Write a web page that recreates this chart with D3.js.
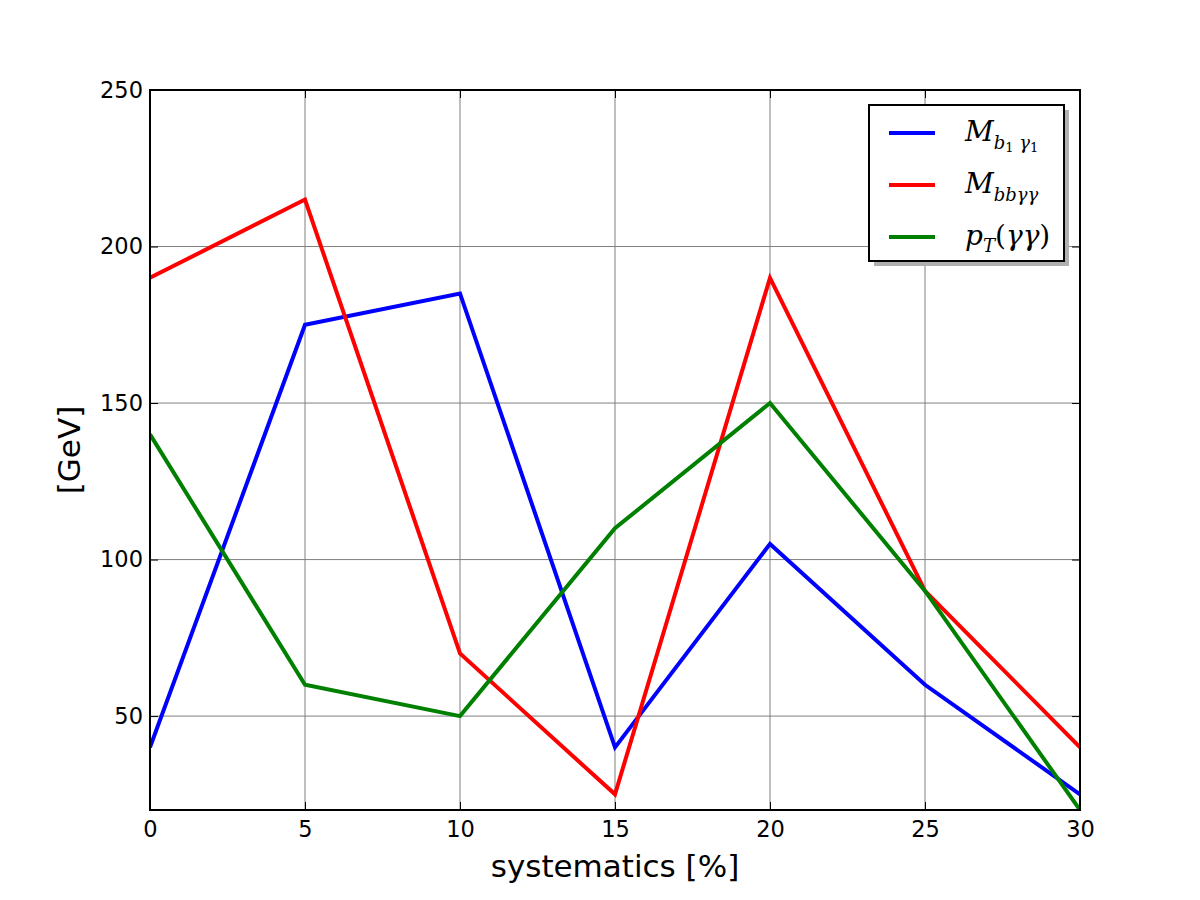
<!DOCTYPE html>
<html>
<head>
<meta charset="utf-8">
<script src="https://cdn.jsdelivr.net/npm/d3@7"></script>
<style>
  body { margin: 0; background: #fff; }
  text { font-family: "DejaVu Sans", sans-serif; }
  .math { font-family: "DejaVu Serif", "Liberation Serif", serif; font-style: italic; }
</style>
</head>
<body>
<svg id="chart" width="1200" height="900"></svg>
<script>
const systematics = [0, 5, 10, 15, 20, 25, 30];
const mB1G1 = [40, 175, 185, 40, 105, 60, 25];
const mBBGG = [190, 215, 70, 25, 190, 90, 40];
const ptGG = [140, 60, 50, 110, 150, 90, 20];
const xTicks = [0, 5, 10, 15, 20, 25, 30];
const yTicks = [50, 100, 150, 200, 250];

const margin = {top: 90, right: 120, bottom: 90, left: 150};
const width = 1200, height = 900;

const svg = d3.select("#chart");

const x = d3.scaleLinear().domain([0, 30]).range([margin.left, width - margin.right]);
const y = d3.scaleLinear().domain([20, 250]).range([height - margin.bottom, margin.top]);

// grid
svg.append("g").selectAll("line").data(xTicks.slice(1, -1)).join("line")
    .attr("x1", d => x(d)).attr("x2", d => x(d))
    .attr("y1", y(20)).attr("y2", y(250))
    .attr("stroke", "#808080").attr("stroke-width", 1);
svg.append("g").selectAll("line").data(yTicks.slice(0, -1)).join("line")
    .attr("x1", x(0)).attr("x2", x(30))
    .attr("y1", d => y(d)).attr("y2", d => y(d))
    .attr("stroke", "#808080").attr("stroke-width", 1);

// series
const series = [
    {name: "b1g1", values: mB1G1, color: "#0000ff"},
    {name: "bbgg", values: mBBGG, color: "#ff0000"},
    {name: "ptgg", values: ptGG, color: "#008000"}
];

const line = d3.line()
    .x((d, i) => x(systematics[i]))
    .y(d => y(d));

svg.append("clipPath").attr("id", "clip")
    .append("rect")
    .attr("x", x(0)).attr("y", y(250))
    .attr("width", x(30) - x(0)).attr("height", y(20) - y(250));

svg.append("g").attr("clip-path", "url(#clip)")
    .selectAll("path").data(series).join("path")
    .attr("fill", "none")
    .attr("stroke", d => d.color)
    .attr("stroke-width", 4)
    .attr("d", d => line(d.values));

// axes (ticks inside, on all sides)
const tickLen = 8;
const xAxisB = svg.append("g")
    .attr("transform", `translate(0,${y(20)})`)
    .call(d3.axisBottom(x).tickValues(xTicks).tickSize(-tickLen).tickPadding(11).tickFormat(d3.format("d")));
const xAxisT = svg.append("g")
    .attr("transform", `translate(0,${y(250)})`)
    .call(d3.axisTop(x).tickValues(xTicks).tickSize(-tickLen).tickFormat(""));
const yAxisL = svg.append("g")
    .attr("transform", `translate(${x(0)},0)`)
    .call(d3.axisLeft(y).tickValues(yTicks).tickSize(-tickLen).tickPadding(7).tickFormat(d3.format("d")));
const yAxisR = svg.append("g")
    .attr("transform", `translate(${x(30)},0)`)
    .call(d3.axisRight(y).tickValues(yTicks).tickSize(-tickLen).tickFormat(""));

[xAxisB, xAxisT, yAxisL, yAxisR].forEach(g => {
    g.attr("font-size", 22.5).attr("font-family", "DejaVu Sans");
    g.select(".domain").remove();
    g.selectAll(".tick line").attr("stroke", "#000").attr("stroke-width", 1);
    g.selectAll(".tick text").attr("fill", "#000");
});

svg.append("rect")
    .attr("x", x(0)).attr("y", y(250))
    .attr("width", x(30) - x(0)).attr("height", y(20) - y(250))
    .attr("fill", "none").attr("stroke", "#000").attr("stroke-width", 2);

// labels
svg.append("text")
    .attr("x", (x(0) + x(30)) / 2).attr("y", 877)
    .attr("text-anchor", "middle").attr("font-size", 31)
    .text("systematics [%]");
svg.append("text")
    .attr("transform", `translate(80,${(y(20) + y(250)) / 2}) rotate(-90)`)
    .attr("text-anchor", "middle").attr("font-size", 31)
    .text("[GeV]");

// legend
const lg = svg.append("g");
const lx = 869, ly = 105, lw = 195, lh = 156;
lg.append("rect").attr("x", lx + 5).attr("y", ly + 5).attr("width", lw).attr("height", lh).attr("fill", "#b0b0b0");
lg.append("rect").attr("x", lx).attr("y", ly).attr("width", lw).attr("height", lh)
    .attr("fill", "#fff").attr("stroke", "#000").attr("stroke-width", 2);

const items = lg.selectAll("g.item").data(series).join("g")
    .attr("transform", (d, i) => `translate(${lx},${ly + 28 + i * 52})`);
items.append("line")
    .attr("x1", 20).attr("x2", 66).attr("y1", 0).attr("y2", 0)
    .attr("stroke", d => d.color).attr("stroke-width", 4);

function mathLabel(t, d) {
    t.attr("class", "math").attr("x", 96).attr("y", 8).attr("font-size", 28);
    if (d.name === "b1g1") {
        t.append("tspan").text("M");
        t.append("tspan").attr("dy", 8).attr("font-size", 18).text("b");
        t.append("tspan").attr("dy", 3).attr("font-size", 13).attr("font-style", "normal").text("1");
        t.append("tspan").attr("dy", -3).attr("font-size", 18).text(" γ");
        t.append("tspan").attr("dy", 3).attr("font-size", 13).attr("font-style", "normal").text("1");
    } else if (d.name === "bbgg") {
        t.append("tspan").text("M");
        t.append("tspan").attr("dy", 8).attr("font-size", 18).text("bbγγ");
    } else {
        t.append("tspan").text("p");
        t.append("tspan").attr("dy", 7).attr("font-size", 18).text("T");
        t.append("tspan").attr("dy", -7).attr("font-style", "normal").text("(");
        t.append("tspan").text("γγ");
        t.append("tspan").attr("font-style", "normal").text(")");
    }
}
items.append("text").each(function(d) { mathLabel(d3.select(this), d); });
</script>
</body>
</html>
